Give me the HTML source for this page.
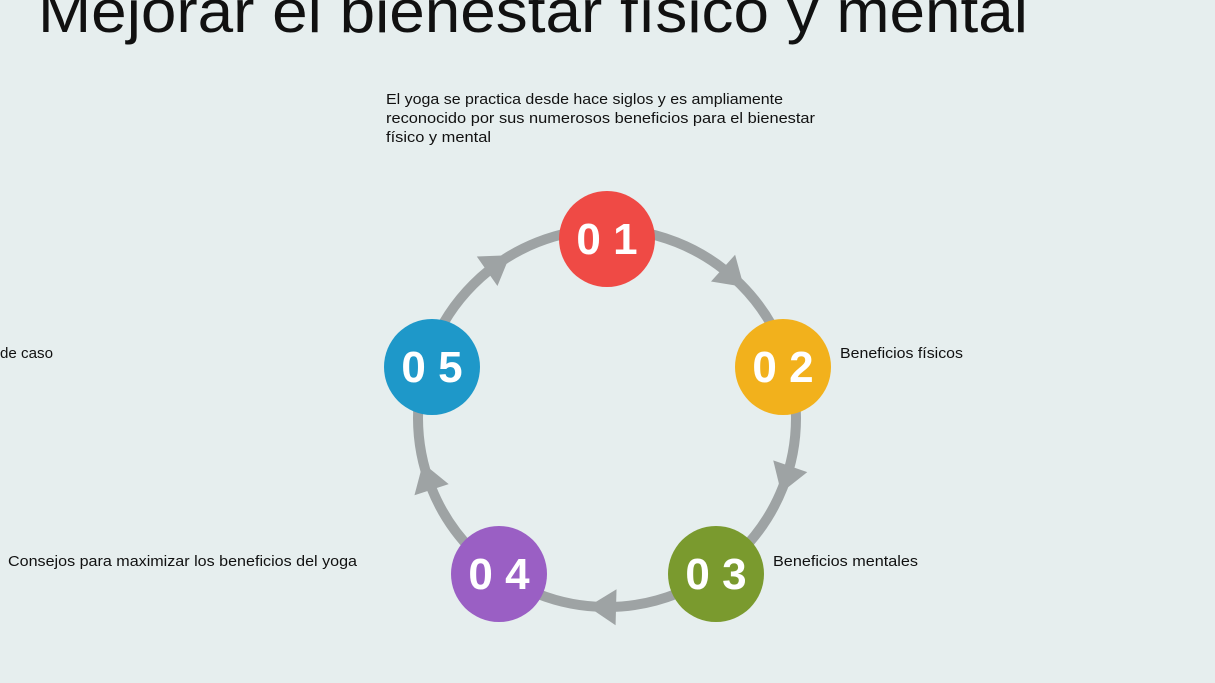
<!DOCTYPE html>
<html><head><meta charset="utf-8"><style>
html,body{margin:0;padding:0;background:#e6eeee;}
svg{display:block}
</style></head><body>
<svg width="1215" height="683" viewBox="0 0 1215 683" xmlns="http://www.w3.org/2000/svg">
<rect width="1215" height="683" fill="#e6eeee"/>
<text x="38" y="32" font-family="Liberation Sans, sans-serif" font-size="60" fill="#111" textLength="990" lengthAdjust="spacingAndGlyphs">Mejorar el bienestar físico y mental</text>
<g font-family="Liberation Sans, sans-serif" font-size="15" fill="#111">
<text x="386" y="104" textLength="397" lengthAdjust="spacingAndGlyphs">El yoga se practica desde hace siglos y es ampliamente</text>
<text x="386" y="123" textLength="429" lengthAdjust="spacingAndGlyphs">reconocido por sus numerosos beneficios para el bienestar</text>
<text x="386" y="142" textLength="105" lengthAdjust="spacingAndGlyphs">físico y mental</text>
<text x="840" y="358" textLength="123" lengthAdjust="spacingAndGlyphs">Beneficios físicos</text>
<text x="773" y="566" textLength="145" lengthAdjust="spacingAndGlyphs">Beneficios mentales</text>
<text x="8" y="566" textLength="349" lengthAdjust="spacingAndGlyphs">Consejos para maximizar los beneficios del yoga</text>
<text x="0" y="358" textLength="53" lengthAdjust="spacingAndGlyphs">de caso</text>
</g>
<circle cx="607" cy="418" r="189" fill="none" stroke="#9ea3a4" stroke-width="10"/>
<g fill="#9ea3a4" stroke="none">
<g transform="translate(607,418) rotate(-48)"><polygon points="189,14 171,-14 207,-14"/></g>
<g transform="translate(607,418) rotate(19)"><polygon points="189,14 171,-14 207,-14"/></g>
<g transform="translate(607,418) rotate(91.5)"><polygon points="189,14 171,-14 207,-14"/></g>
<g transform="translate(607,418) rotate(162)"><polygon points="189,14 171,-14 207,-14"/></g>
<g transform="translate(607,418) rotate(235)"><polygon points="189,14 171,-14 207,-14"/></g>
</g>
<g font-family="Liberation Sans, sans-serif" font-weight="bold" font-size="44" fill="#fff" text-anchor="middle">
<circle cx="607" cy="239" r="48" fill="#ef4a45"/><text x="607" y="254">0 1</text>
<circle cx="783" cy="367" r="48" fill="#f2b11c"/><text x="783" y="382">0 2</text>
<circle cx="716" cy="574" r="48" fill="#7a9a2e"/><text x="716" y="589">0 3</text>
<circle cx="499" cy="574" r="48" fill="#9a5fc4"/><text x="499" y="589">0 4</text>
<circle cx="432" cy="367" r="48" fill="#1e98c9"/><text x="432" y="382">0 5</text>
</g>
</svg>
</body></html>
